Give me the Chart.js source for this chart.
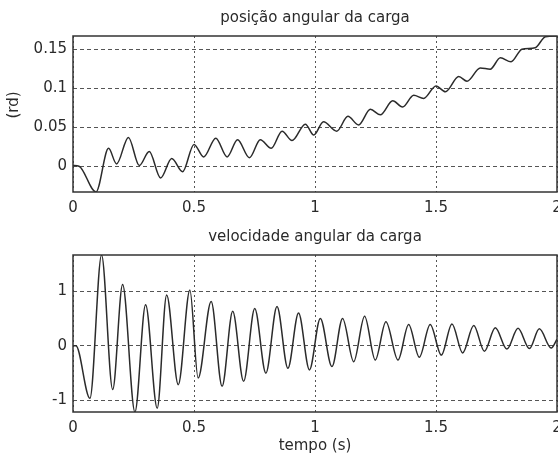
<!DOCTYPE html>
<html><head><meta charset="utf-8">
<script src="https://cdn.jsdelivr.net/npm/chart.js@4.4.1/dist/chart.umd.min.js"></script>
<style>
html,body{margin:0;padding:0;overflow:hidden;background:#fff;width:558px;height:459px}
canvas{position:absolute;left:0}
#c1{top:0}
#c2{top:225px}
</style></head><body>
<canvas id="c1" width="572" height="225"></canvas>
<canvas id="c2" width="572" height="234"></canvas>
<script>
// ---- data ----
const timePos = [0, 0.025, 0.095, 0.147, 0.18, 0.229, 0.274, 0.315, 0.362, 0.408, 0.453, 0.50,
  0.54, 0.59, 0.637, 0.68, 0.729, 0.774, 0.819, 0.864, 0.905, 0.96, 0.995, 1.035, 1.09, 1.136,
  1.18, 1.229, 1.27, 1.321, 1.362, 1.408, 1.449, 1.50, 1.539, 1.594, 1.628, 1.683, 1.724, 1.766,
  1.81, 1.855, 1.91, 1.952, 2.0];
const posValues = [0.001, 0.000, -0.033, 0.023, 0.003, 0.037, 0.001, 0.019, -0.015, 0.010, -0.007, 0.028,
  0.012, 0.036, 0.012, 0.034, 0.011, 0.034, 0.023, 0.045, 0.033, 0.054, 0.040, 0.057, 0.045, 0.064,
  0.053, 0.073, 0.066, 0.084, 0.076, 0.091, 0.087, 0.103, 0.0955, 0.115, 0.109, 0.126, 0.1245, 0.139,
  0.134, 0.150, 0.152, 0.166, 0.167];

const timeVel = [0, 0.012, 0.07, 0.118, 0.164, 0.205, 0.256, 0.30, 0.348, 0.387, 0.435, 0.483,
  0.517, 0.571, 0.616, 0.66, 0.705, 0.751, 0.797, 0.843, 0.888, 0.932, 0.977, 1.022, 1.07, 1.114,
  1.16, 1.205, 1.249, 1.293, 1.343, 1.387, 1.431, 1.476, 1.522, 1.566, 1.61, 1.656, 1.70, 1.745,
  1.793, 1.839, 1.886, 1.927, 1.976, 2.0];
const velValues = [0, 0, -0.96, 1.66, -0.80, 1.12, -1.21, 0.75, -1.14, 0.93, -0.71, 1.02,
  -0.59, 0.81, -0.74, 0.63, -0.65, 0.68, -0.50, 0.72, -0.41, 0.60, -0.44, 0.50, -0.38, 0.50,
  -0.29, 0.54, -0.26, 0.44, -0.26, 0.39, -0.21, 0.39, -0.17, 0.40, -0.13, 0.37, -0.10, 0.33,
  -0.06, 0.32, -0.05, 0.31, -0.04, 0.12];

const xTicks = [0, 0.5, 1, 1.5, 2];
const xTickLabels = ['0', '0.5', '1', '1.5', '2'];
const posTicks = [0, 0.05, 0.1, 0.15];
const posTickLabels = ['0', '0.05', '0.1', '0.15'];
const velTicks = [-1, 0, 1];
const velTickLabels = ['-1', '0', '1'];
const posRange = [-0.033, 0.167];
const velRange = [-1.21, 1.66];
const timeRange = [0, 2];

const titles = {pos: 'posição angular da carga', vel: 'velocidade angular da carga'};
const axisTitles = {pos: '(rd)', vel: '(rd/s)', time: 'tempo (s)'};

// ---- drawing ----
const FONT = {family: "'DejaVu Sans', sans-serif", size: 15, weight: 'normal'};
const TEXT = '#2a2a2a';

const framePlugin = {
  id: 'frame',
  afterLayout(chart) {
    // centre the chart title over the plot area
    const tb = chart.titleBlock, a = chart.chartArea;
    if (tb) { tb.left = a.left; tb.right = a.right; tb.width = a.right - a.left; }
  },
  afterDraw(chart, args, opts) {
    const {ctx, chartArea: a} = chart;
    ctx.save();
    ctx.strokeStyle = '#333';
    ctx.lineWidth = 1.5;
    ctx.strokeRect(a.left, a.top, a.right - a.left, a.bottom - a.top);
    // y-axis label
    ctx.translate(opts.yTitleX, opts.yTitleY);
    ctx.rotate(-Math.PI / 2);
    ctx.fillStyle = TEXT;
    ctx.font = `${FONT.size}px ${FONT.family}`;
    ctx.textAlign = 'center';
    ctx.textBaseline = 'middle';
    ctx.fillText(opts.yTitle, 0, 0);
    ctx.restore();
  }
};

function makeChart(id, t, v, yTicks, yLabels, yRange, cfg) {
  return new Chart(document.getElementById(id), {
    type: 'line',
    data: {datasets: [{
      data: t.map((x, i) => ({x: x, y: v[i]})),
      borderColor: '#2b2b2b', borderWidth: 1.5, pointRadius: 0,
      cubicInterpolationMode: 'monotone', fill: false
    }]},
    options: {
      responsive: false, animation: false, devicePixelRatio: 1,
      layout: {padding: {left: 0, right: 15, top: 0, bottom: 0}},
      plugins: {
        legend: {display: false}, tooltip: {enabled: false},
        title: {display: true, text: cfg.title, color: TEXT, font: FONT,
          padding: {top: cfg.titleTop, bottom: cfg.titleBottom}},
        frame: {yTitle: cfg.yTitle, yTitleX: cfg.yTitleX, yTitleY: cfg.yTitleY}
      },
      scales: {
        x: {
          type: 'linear', min: timeRange[0], max: timeRange[1],
          afterBuildTicks: s => { s.ticks = xTicks.map(val => ({value: val})); },
          afterFit: s => { s.height = cfg.xHeight; },
          ticks: {callback: val => xTickLabels[xTicks.indexOf(val)], color: TEXT, font: FONT,
            padding: cfg.xTickPad, maxRotation: 0, autoSkip: false},
          grid: {color: '#555', lineWidth: 1, drawTicks: false},
          border: {display: false, dash: [2, 3]},
          title: cfg.xTitle ? {display: true, text: cfg.xTitle, color: TEXT, font: FONT,
            padding: {top: 0, bottom: cfg.xTitleBottom}} : {display: false}
        },
        y: {
          type: 'linear', min: yRange[0], max: yRange[1],
          afterBuildTicks: s => { s.ticks = yTicks.map(val => ({value: val})); },
          afterFit: s => { s.width = 73; },
          ticks: {callback: val => yLabels[yTicks.indexOf(val)], color: TEXT, font: FONT, padding: 6},
          grid: {color: '#555', lineWidth: 1, drawTicks: false},
          border: {display: false, dash: [4, 3]}
        }
      }
    },
    plugins: [framePlugin]
  });
}

makeChart('c1', timePos, posValues, posTicks, posTickLabels, posRange, {
  title: titles.pos, titleTop: 9, titleBottom: 9, xHeight: 33, xTickPad: 7,
  yTitle: axisTitles.pos, yTitleX: 14.5, yTitleY: 105
});
makeChart('c2', timeVel, velValues, velTicks, velTickLabels, velRange, {
  title: titles.vel, titleTop: 3, titleBottom: 9, xHeight: 47, xTickPad: 7,
  xTitle: axisTitles.time, xTitleBottom: 4,
  yTitle: axisTitles.vel, yTitleX: 39, yTitleY: 333
});
</script>
</body></html>
